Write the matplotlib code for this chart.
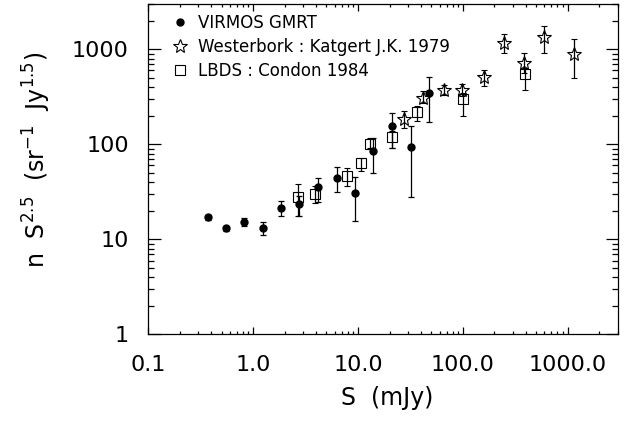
import matplotlib
matplotlib.use("Agg")
import matplotlib.pyplot as plt
import numpy as np
from matplotlib.lines import Line2D

# VIRMOS GMRT (filled circles)
virmos_s = [0.367, 0.553, 0.826, 1.24, 1.86, 2.76, 4.19, 6.26, 9.36, 14.0, 20.9, 31.8, 47.8]
virmos_n = [17.1, 13.1, 15.1, 13.2, 21.2, 23.5, 36.0, 44.8, 30.5, 84.5, 155, 94.6, 347]
virmos_lo = [16.0, 12.2, 13.7, 11.1, 17.5, 17.8, 24.5, 31.7, 15.6, 49.6, 92.3, 27.7, 173]
virmos_hi = [18.2, 14.0, 16.7, 15.1, 25.1, 28.5, 44.8, 58.4, 45.9, 116, 215, 158, 512]

# Westerbork : Katgert J.K. 1979 (open stars)
wsrt_s = [27.6, 41.9, 66.0, 99.3, 158, 246, 381, 590, 1140]
wsrt_n = [183, 308, 371, 371, 512, 1178, 716, 1362, 897]
wsrt_lo = [150, 273, 334, 322, 415, 912, 560, 925, 499]
wsrt_hi = [223, 361, 425, 435, 610, 1452, 925, 1775, 1279]

# LBDS : Condon 1984 (open squares)
lbds_s = [2.7, 3.89, 7.8, 10.8, 13.0, 20.9, 36.7, 101, 395]
lbds_n = [28.0, 30.0, 46.5, 63.0, 102, 120, 218, 300, 553]
lbds_lo = [17.8, 24.1, 36.6, 52.5, 92.3, 92.3, 175, 198, 371]
lbds_hi = [38.1, 36.6, 57.0, 72.6, 116, 138, 252, 350, 640]

legend_labels = ["VIRMOS GMRT", "Westerbork : Katgert J.K. 1979", "LBDS : Condon 1984"]
xtick_vals = [0.1, 1, 10, 100, 1000]
xtick_labels = ["0.1", "1.0", "10.0", "100.0", "1000.0"]
ytick_vals = [1, 10, 100, 1000]
ytick_labels = ["1", "10", "100", "1000"]

fig = plt.figure(figsize=(6.41, 4.21), dpi=100)
ax = fig.add_axes([0.2314, 0.2055, 0.7322, 0.785])

def yerr(n, lo, hi):
    n = np.array(n); lo = np.array(lo); hi = np.array(hi)
    return [n - lo, hi - n]

ekw = dict(ecolor="black", elinewidth=0.9, capsize=2.5, capthick=0.9, linestyle="none")
ax.errorbar(virmos_s, virmos_n, yerr=yerr(virmos_n, virmos_lo, virmos_hi),
            marker="o", ms=5, mfc="black", mec="black", **ekw)
ax.errorbar(lbds_s, lbds_n, yerr=yerr(lbds_n, lbds_lo, lbds_hi),
            marker="s", ms=7, mfc="none", mec="black", mew=0.8, **ekw)
ax.errorbar(wsrt_s, wsrt_n, yerr=yerr(wsrt_n, wsrt_lo, wsrt_hi),
            marker="*", ms=10, mfc="none", mec="black", mew=0.8, **ekw)

ax.set_xscale("log")
ax.set_yscale("log")
ax.set_xlim(0.1, 3000)
ax.set_ylim(1, 3000)

ax.set_xticks(xtick_vals)
ax.set_xticklabels(xtick_labels)
ax.set_yticks(ytick_vals)
ax.set_yticklabels(ytick_labels)

ax.tick_params(which="both", direction="in", top=True, right=True, labelsize=16, width=0.9)
ax.tick_params(axis="x", which="major", length=5, pad=15)
ax.tick_params(axis="x", which="minor", length=2.5)
ax.tick_params(axis="y", which="major", length=9, pad=14)
ax.tick_params(axis="y", which="minor", length=4.5)
for sp in ax.spines.values():
    sp.set_linewidth(0.9)

ax.set_xlabel("S  (mJy)", fontsize=17, va="center")
ax.xaxis.set_label_coords(0.5085, -0.192)
ax.set_ylabel(r"n  S$^{2.5}$  (sr$^{-1}$  Jy$^{1.5}$)", fontsize=17, va="center")
ax.yaxis.set_label_coords(-0.238, 0.528)

handles = [
    Line2D([], [], marker="o", ms=5, mfc="black", mec="black", ls="none"),
    Line2D([], [], marker="*", ms=10, mfc="none", mec="black", mew=0.8, ls="none"),
    Line2D([], [], marker="s", ms=7, mfc="none", mec="black", mew=0.8, ls="none"),
]
ax.legend(handles, legend_labels, loc="upper left", bbox_to_anchor=(0.046, 0.97),
          frameon=False, fontsize=12, handlelength=1.2, handletextpad=0.48,
          labelspacing=0.37, borderaxespad=0, borderpad=0)

fig.savefig("out.png", dpi=100)
